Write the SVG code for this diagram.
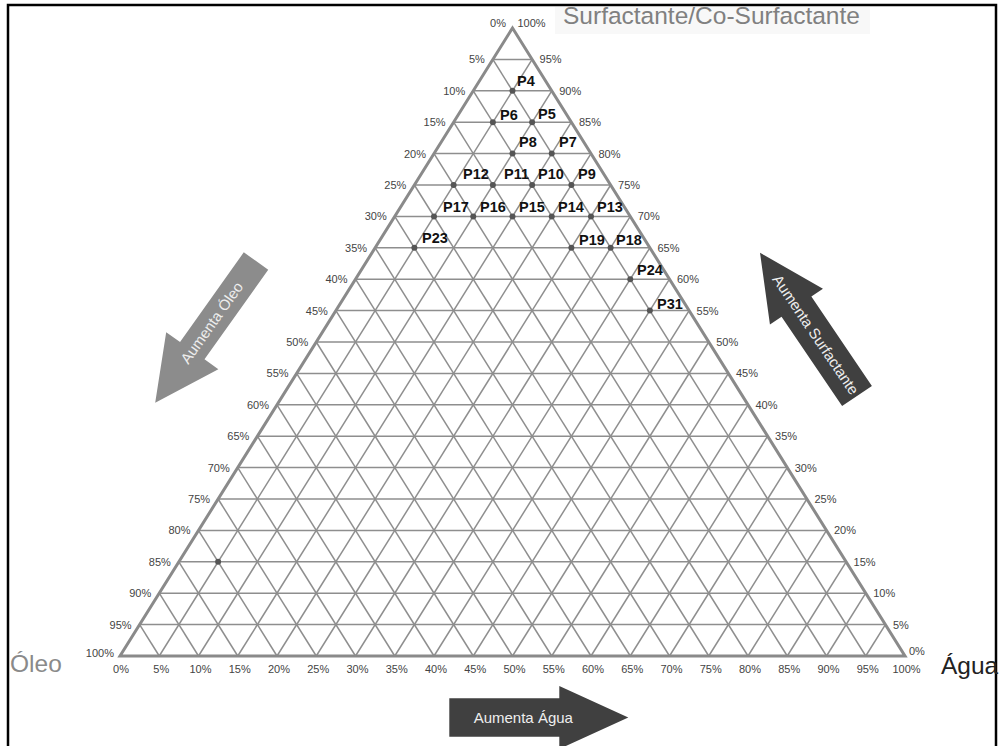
<svg xmlns="http://www.w3.org/2000/svg" width="999" height="746" viewBox="0 0 999 746">
<style>
.g{stroke:#8e8e8e;stroke-width:1.5;fill:none}
.edge{stroke:#8a8a8a;stroke-width:3;fill:none;stroke-linejoin:miter}
.pct{font-family:"Liberation Sans",Arial,sans-serif;font-size:11px;fill:#444}
.pl{font-family:"Liberation Sans",Arial,sans-serif;font-size:14.5px;font-weight:bold;fill:#111}
.dot{fill:#555}
.big{font-family:"Liberation Sans",Arial,sans-serif;font-size:24.5px}
.at{font-family:"Liberation Sans",Arial,sans-serif;font-size:15px;fill:#eeeeee;text-anchor:middle}
</style>
<rect x="0" y="0" width="999" height="746" fill="#ffffff"/>
<rect x="8" y="5" width="988" height="750" fill="none" stroke="#000" stroke-width="2.5"/>
<rect x="555" y="7" width="315" height="27" fill="#f8f8f8"/>
<text class="big" x="563" y="24" fill="#808080">Surfactante/Co-Surfactante</text>
<text class="big" x="10" y="672" fill="#8a8a8a">Óleo</text>
<text class="big" x="941" y="674" fill="#222">Água</text>

<g id="grid">
<g class="g">
<line x1="492.875" y1="59.4" x2="532.125" y2="59.4"/>
<line x1="473.25" y1="90.8" x2="551.75" y2="90.8"/>
<line x1="453.625" y1="122.2" x2="571.375" y2="122.2"/>
<line x1="434" y1="153.6" x2="591" y2="153.6"/>
<line x1="414.375" y1="185" x2="610.625" y2="185"/>
<line x1="394.75" y1="216.4" x2="630.25" y2="216.4"/>
<line x1="375.125" y1="247.8" x2="649.875" y2="247.8"/>
<line x1="355.5" y1="279.2" x2="669.5" y2="279.2"/>
<line x1="335.875" y1="310.6" x2="689.125" y2="310.6"/>
<line x1="316.25" y1="342" x2="708.75" y2="342"/>
<line x1="296.625" y1="373.4" x2="728.375" y2="373.4"/>
<line x1="277" y1="404.8" x2="748" y2="404.8"/>
<line x1="257.375" y1="436.2" x2="767.625" y2="436.2"/>
<line x1="237.75" y1="467.6" x2="787.25" y2="467.6"/>
<line x1="218.125" y1="499" x2="806.875" y2="499"/>
<line x1="198.5" y1="530.4" x2="826.5" y2="530.4"/>
<line x1="178.875" y1="561.8" x2="846.125" y2="561.8"/>
<line x1="159.25" y1="593.2" x2="865.75" y2="593.2"/>
<line x1="139.625" y1="624.6" x2="885.375" y2="624.6"/>

<line x1="159.25" y1="656" x2="532.125" y2="59.4"/>
<line x1="198.5" y1="656" x2="551.75" y2="90.8"/>
<line x1="237.75" y1="656" x2="571.375" y2="122.2"/>
<line x1="277" y1="656" x2="591" y2="153.6"/>
<line x1="316.25" y1="656" x2="610.625" y2="185"/>
<line x1="355.5" y1="656" x2="630.25" y2="216.4"/>
<line x1="394.75" y1="656" x2="649.875" y2="247.8"/>
<line x1="434" y1="656" x2="669.5" y2="279.2"/>
<line x1="473.25" y1="656" x2="689.125" y2="310.6"/>
<line x1="512.5" y1="656" x2="708.75" y2="342"/>
<line x1="551.75" y1="656" x2="728.375" y2="373.4"/>
<line x1="591" y1="656" x2="748" y2="404.8"/>
<line x1="630.25" y1="656" x2="767.625" y2="436.2"/>
<line x1="669.5" y1="656" x2="787.25" y2="467.6"/>
<line x1="708.75" y1="656" x2="806.875" y2="499"/>
<line x1="748" y1="656" x2="826.5" y2="530.4"/>
<line x1="787.25" y1="656" x2="846.125" y2="561.8"/>
<line x1="826.5" y1="656" x2="865.75" y2="593.2"/>
<line x1="865.75" y1="656" x2="885.375" y2="624.6"/>

<line x1="159.25" y1="656" x2="139.625" y2="624.6"/>
<line x1="198.5" y1="656" x2="159.25" y2="593.2"/>
<line x1="237.75" y1="656" x2="178.875" y2="561.8"/>
<line x1="277" y1="656" x2="198.5" y2="530.4"/>
<line x1="316.25" y1="656" x2="218.125" y2="499"/>
<line x1="355.5" y1="656" x2="237.75" y2="467.6"/>
<line x1="394.75" y1="656" x2="257.375" y2="436.2"/>
<line x1="434" y1="656" x2="277" y2="404.8"/>
<line x1="473.25" y1="656" x2="296.625" y2="373.4"/>
<line x1="512.5" y1="656" x2="316.25" y2="342"/>
<line x1="551.75" y1="656" x2="335.875" y2="310.6"/>
<line x1="591" y1="656" x2="355.5" y2="279.2"/>
<line x1="630.25" y1="656" x2="375.125" y2="247.8"/>
<line x1="669.5" y1="656" x2="394.75" y2="216.4"/>
<line x1="708.75" y1="656" x2="414.375" y2="185"/>
<line x1="748" y1="656" x2="434" y2="153.6"/>
<line x1="787.25" y1="656" x2="453.625" y2="122.2"/>
<line x1="826.5" y1="656" x2="473.25" y2="90.8"/>
<line x1="865.75" y1="656" x2="492.875" y2="59.4"/>
</g>
<polygon class="edge" points="512.5,28 905,656 120,656"/>
</g>

<g id="axis-left" class="pct" text-anchor="end">
<text x="506" y="26.5">0%</text>
<text x="484.9" y="63.4">5%</text>
<text x="465.25" y="94.8">10%</text>
<text x="445.6" y="126.2">15%</text>
<text x="426" y="157.6">20%</text>
<text x="406.4" y="189">25%</text>
<text x="386.75" y="220.4">30%</text>
<text x="367.1" y="251.8">35%</text>
<text x="347.5" y="283.2">40%</text>
<text x="327.9" y="314.6">45%</text>
<text x="308.25" y="346">50%</text>
<text x="288.6" y="377.4">55%</text>
<text x="269" y="408.8">60%</text>
<text x="249.4" y="440.2">65%</text>
<text x="229.75" y="471.6">70%</text>
<text x="210.1" y="503">75%</text>
<text x="190.5" y="534.4">80%</text>
<text x="170.9" y="565.8">85%</text>
<text x="151.25" y="597.2">90%</text>
<text x="131.6" y="628.6">95%</text>
<text x="114" y="657">100%</text>
</g>

<g id="axis-right" class="pct">
<text x="517.5" y="26.5">100%</text>
<text x="539.6" y="63.4">95%</text>
<text x="559.25" y="94.8">90%</text>
<text x="578.9" y="126.2">85%</text>
<text x="598.5" y="157.6">80%</text>
<text x="618.1" y="189">75%</text>
<text x="637.75" y="220.4">70%</text>
<text x="657.4" y="251.8">65%</text>
<text x="677" y="283.2">60%</text>
<text x="696.6" y="314.6">55%</text>
<text x="716.25" y="346">50%</text>
<text x="735.9" y="377.4">45%</text>
<text x="755.5" y="408.8">40%</text>
<text x="775.1" y="440.2">35%</text>
<text x="794.75" y="471.6">30%</text>
<text x="814.4" y="503">25%</text>
<text x="834" y="534.4">20%</text>
<text x="853.6" y="565.8">15%</text>
<text x="873.25" y="597.2">10%</text>
<text x="892.9" y="628.6">5%</text>
<text x="909" y="655">0%</text>
</g>

<g id="axis-bottom" class="pct" text-anchor="middle">
<text x="121" y="672.5">0%</text>
<text x="161.25" y="672.5">5%</text>
<text x="200.5" y="672.5">10%</text>
<text x="239.75" y="672.5">15%</text>
<text x="279" y="672.5">20%</text>
<text x="318.25" y="672.5">25%</text>
<text x="357.5" y="672.5">30%</text>
<text x="396.75" y="672.5">35%</text>
<text x="436" y="672.5">40%</text>
<text x="475.25" y="672.5">45%</text>
<text x="514.5" y="672.5">50%</text>
<text x="553.75" y="672.5">55%</text>
<text x="593" y="672.5">60%</text>
<text x="632.25" y="672.5">65%</text>
<text x="671.5" y="672.5">70%</text>
<text x="710.75" y="672.5">75%</text>
<text x="750" y="672.5">80%</text>
<text x="789.25" y="672.5">85%</text>
<text x="828.5" y="672.5">90%</text>
<text x="867.75" y="672.5">95%</text>
<text x="906.5" y="672.5">100%</text>
</g>

<g id="points">
<g id="P4"><circle class="dot" cx="512.5" cy="90.8" r="3"/><text class="pl" x="517" y="86">P4</text></g>
<g id="P5"><circle class="dot" cx="532.125" cy="122.2" r="3"/><text class="pl" x="538" y="119">P5</text></g>
<g id="P6"><circle class="dot" cx="492.875" cy="122.2" r="3"/><text class="pl" x="500" y="120">P6</text></g>
<g id="P7"><circle class="dot" cx="551.75" cy="153.6" r="3"/><text class="pl" x="559" y="147">P7</text></g>
<g id="P8"><circle class="dot" cx="512.5" cy="153.6" r="3"/><text class="pl" x="519" y="147">P8</text></g>
<g id="P9"><circle class="dot" cx="571.375" cy="185" r="3"/><text class="pl" x="578" y="179">P9</text></g>
<g id="P10"><circle class="dot" cx="532.125" cy="185" r="3"/><text class="pl" x="538" y="179">P10</text></g>
<g id="P11"><circle class="dot" cx="492.875" cy="185" r="3"/><text class="pl" x="504" y="179">P11</text></g>
<g id="P12"><circle class="dot" cx="453.625" cy="185" r="3"/><text class="pl" x="463" y="179">P12</text></g>
<g id="P13"><circle class="dot" cx="591" cy="216.4" r="3"/><text class="pl" x="597" y="211.5">P13</text></g>
<g id="P14"><circle class="dot" cx="551.75" cy="216.4" r="3"/><text class="pl" x="558" y="211.5">P14</text></g>
<g id="P15"><circle class="dot" cx="512.5" cy="216.4" r="3"/><text class="pl" x="519" y="211.5">P15</text></g>
<g id="P16"><circle class="dot" cx="473.25" cy="216.4" r="3"/><text class="pl" x="480" y="211.5">P16</text></g>
<g id="P17"><circle class="dot" cx="434" cy="216.4" r="3"/><text class="pl" x="443" y="211.5">P17</text></g>
<g id="P18"><circle class="dot" cx="610.625" cy="247.8" r="3"/><text class="pl" x="616" y="245">P18</text></g>
<g id="P19"><circle class="dot" cx="571.375" cy="247.8" r="3"/><text class="pl" x="579" y="245">P19</text></g>
<g id="P23"><circle class="dot" cx="414.375" cy="247.8" r="3"/><text class="pl" x="422" y="243">P23</text></g>
<g id="P24"><circle class="dot" cx="630.25" cy="279.2" r="3"/><text class="pl" x="637" y="275">P24</text></g>
<g id="P31"><circle class="dot" cx="649.875" cy="310.6" r="3"/><text class="pl" x="657" y="309">P31</text></g>
<g id="P85"><circle class="dot" cx="218.125" cy="561.8" r="3"/></g>
</g>

<g id="arrow-agua">
<polygon points="449.3,698.3 559.3,698.3 559.3,686 628.3,717.5 559.3,749 559.3,736.7 449.3,736.7" fill="#404040"/>
<text class="at" x="523.3" y="722.7">Aumenta Água</text>
</g>
<g id="arrow-oleo" transform="translate(256,261) rotate(125.4)">
<polygon points="0,-15 110,-15 110,-32 174,0 110,32 110,15 0,15" fill="#8c8c8c"/>
<text class="at" transform="translate(76,0) rotate(180)" y="5">Aumenta Óleo</text>
</g>
<g id="arrow-surfactante" transform="translate(857,396) rotate(-124.1)">
<polygon points="0,-18 108,-18 108,-32 173,0 108,32 108,18 0,18" fill="#404040"/>
<text class="at" transform="translate(74,0) rotate(180)" y="5">Aumenta Surfactante</text>
</g>
</svg>
